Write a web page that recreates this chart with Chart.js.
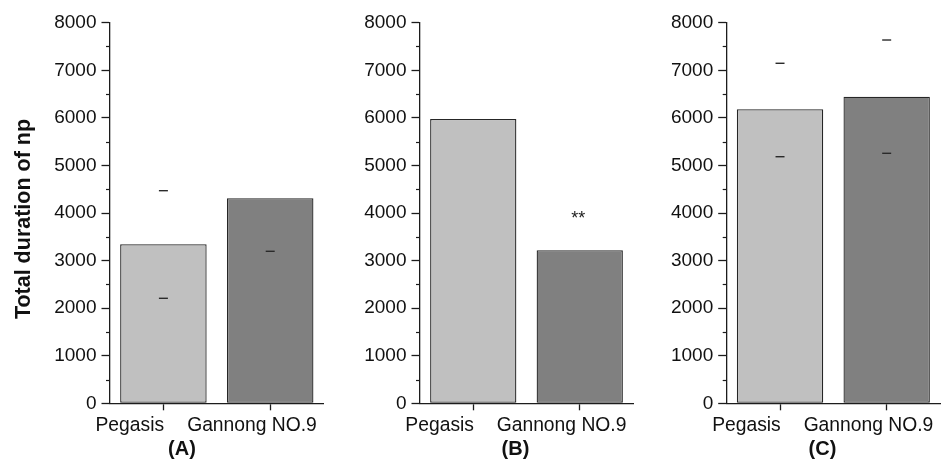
<!DOCTYPE html>
<html>
<head>
<meta charset="utf-8">
<script src="https://cdn.jsdelivr.net/npm/chart.js@4.4.1/dist/chart.umd.min.js"></script>
<style>
  html, body { margin: 0; padding: 0; background: #ffffff; }
  #wrap { position: relative; width: 942px; height: 464px; overflow: hidden; background: #ffffff; }
  canvas { position: absolute; top: 0; }
</style>
</head>
<body>
<div id="wrap">
  <canvas id="panelA" width="330" height="464" style="left:0px"></canvas>
  <canvas id="panelB" width="310" height="464" style="left:330px"></canvas>
  <canvas id="panelC" width="302" height="464" style="left:640px"></canvas>
</div>
<script>
// Groups on the x axis
const categories = ['Pegasis', 'Gannong NO.9'];
const panelLabels = ['(A)', '(B)', '(C)'];
const yTitle = 'Total duration of np';

// Mean total duration per group
const valuesA = [3342, 4309];
const valuesB = [5976, 3216];
const valuesC = [6180, 6445];

// Error bar caps (null where no cap is shown)
const capHighA = [4469, null];
const capLowA  = [2207, 3195];
const capHighB = [null, null];
const capLowB  = [null, null];
const capHighC = [7147, 7636];
const capLowC  = [5183, 5255];

// Significance marks above bars
const sigA = ['', ''];
const sigB = ['', '**'];
const sigC = ['', ''];

// Y axis ticks
const yMin = 0;
const yMax = 8000;
const yStep = 1000;
const yMinorStep = 500;

const barColors = ['#c0c0c0', '#808080'];
const inkColor = '#1c1c1c';
const fontFamily = "'Liberation Sans', Arial, Helvetica, sans-serif";

const decorPlugin = {
  id: 'panelDecor',
  afterDraw(chart, args, opts) {
    const ctx = chart.ctx;
    const yScale = chart.scales.y;
    const area = chart.chartArea;
    const meta = chart.getDatasetMeta(0);
    ctx.save();

    // minor ticks on the y axis
    ctx.strokeStyle = inkColor;
    ctx.lineWidth = 1.2;
    for (let v = yMin + yMinorStep; v < yMax; v += yStep) {
      const y = Math.round(yScale.getPixelForValue(v)) + 0.5;
      ctx.beginPath();
      ctx.moveTo(area.left - 4, y);
      ctx.lineTo(area.left, y);
      ctx.stroke();
    }

    // error bar caps
    ctx.strokeStyle = '#2a2a2a';
    ctx.lineWidth = 1.4;
    meta.data.forEach((bar, i) => {
      [opts.capHigh[i], opts.capLow[i]].forEach(v => {
        if (v === null || v === undefined) return;
        const y = yScale.getPixelForValue(v);
        ctx.beginPath();
        ctx.moveTo(bar.x - 4.5, y);
        ctx.lineTo(bar.x + 4.5, y);
        ctx.stroke();
      });
    });

    // significance marks
    ctx.fillStyle = inkColor;
    ctx.font = '18px ' + fontFamily;
    ctx.textAlign = 'center';
    ctx.textBaseline = 'alphabetic';
    meta.data.forEach((bar, i) => {
      if (opts.sig[i]) {
        ctx.fillText(opts.sig[i], bar.x - 1.5, bar.y - 26);
      }
    });

    // category labels under the x axis
    ctx.font = '19.3px ' + fontFamily;
    ctx.fillStyle = '#111111';
    const shifts = [-33.6, -18.2];
    meta.data.forEach((bar, i) => {
      ctx.fillText(categories[i], bar.x + shifts[i], 430.5);
    });

    // panel letter
    ctx.font = 'bold 20px ' + fontFamily;
    ctx.fillText(opts.letter, opts.letterX, 455);

    // y axis title
    if (opts.showTitle) {
      ctx.translate(24, 219);
      ctx.rotate(-Math.PI / 2);
      ctx.font = 'bold 21.5px ' + fontFamily;
      ctx.textBaseline = 'middle';
      ctx.fillText(yTitle, 0, 0);
    }
    ctx.restore();
  }
};

function makePanel(canvasId, values, capHigh, capLow, sig, letter, letterX, axisWidth, padRight, showTitle) {
  return new Chart(document.getElementById(canvasId), {
    type: 'bar',
    data: {
      labels: categories,
      datasets: [{
        data: values,
        backgroundColor: barColors,
        borderColor: '#262626',
        borderWidth: 1.3,
        borderSkipped: false,
        categoryPercentage: 1.0,
        barPercentage: 0.81
      }]
    },
    options: {
      responsive: false,
      animation: false,
      devicePixelRatio: 1,
      layout: { padding: { top: 22.7, right: padRight, bottom: 0, left: 0 } },
      plugins: {
        legend: { display: false },
        tooltip: { enabled: false },
        panelDecor: { capHigh, capLow, sig, letter, letterX, showTitle }
      },
      scales: {
        x: {
          offset: true,
          grid: {
            offset: false,
            drawOnChartArea: false,
            drawTicks: true,
            tickLength: 7,
            tickWidth: 1.3,
            tickColor: inkColor
          },
          border: { display: true, color: inkColor, width: 1.3 },
          ticks: { display: false },
          afterFit(scale) { scale.height = 60.7; }
        },
        y: {
          min: yMin,
          max: yMax,
          grid: {
            drawOnChartArea: false,
            drawTicks: true,
            tickLength: 8.5,
            tickWidth: 1.3,
            tickColor: inkColor
          },
          border: { display: true, color: inkColor, width: 1.3 },
          ticks: {
            stepSize: yStep,
            padding: 5,
            color: '#111111',
            font: { family: fontFamily, size: 19 },
            callback: (value) => String(value)
          },
          afterFit(scale) { scale.width = axisWidth; }
        }
      }
    },
    plugins: [decorPlugin]
  });
}

makePanel('panelA', valuesA, capHighA, capLowA, sigA, panelLabels[0], 182, 110, 6.4, true);
makePanel('panelB', valuesB, capHighB, capLowB, sigB, panelLabels[1], 185.5, 90, 7, false);
makePanel('panelC', valuesC, capHighC, capLowC, sigC, panelLabels[2], 182.5, 86.7, 2, false);
</script>
</body>
</html>
